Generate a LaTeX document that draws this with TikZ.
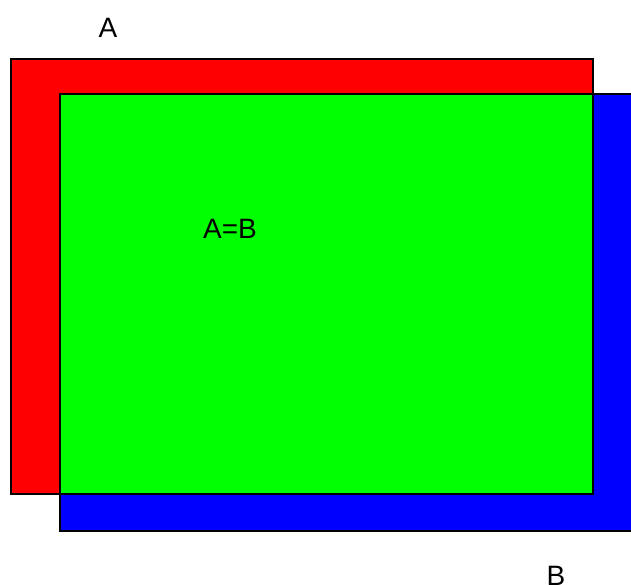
\documentclass[tikz,border=0pt]{standalone}
\usepackage{fontspec}
\setmainfont{Liberation Sans}
\begin{document}
\begin{tikzpicture}[x=1pt,y=-1pt,
  box/.style={draw=black,line width=2.6pt},
  lbl/.style={inner sep=0pt,font=\fontsize{28}{30}\selectfont,text=black}]
\useasboundingbox (0,0) rectangle (631,585);
\clip (0,0) rectangle (631,585);
\fill[white] (0,0) rectangle (631,585);
\draw[box,fill={rgb,255:red,255;green,0;blue,0}] (11,59) rectangle (593,494);
\draw[box,fill={rgb,255:red,0;green,0;blue,255}] (60,94) rectangle (650,531);
\draw[box,fill={rgb,255:red,0;green,255;blue,0}] (60,94) rectangle (593,494);
\node[lbl,anchor=base] (a) at (108,38) {A};
\node[lbl,anchor=base] (b) at (556,585) {B};
\node[lbl,anchor=base west] (ab) at (203,238) {A=B};
\end{tikzpicture}
\end{document}
